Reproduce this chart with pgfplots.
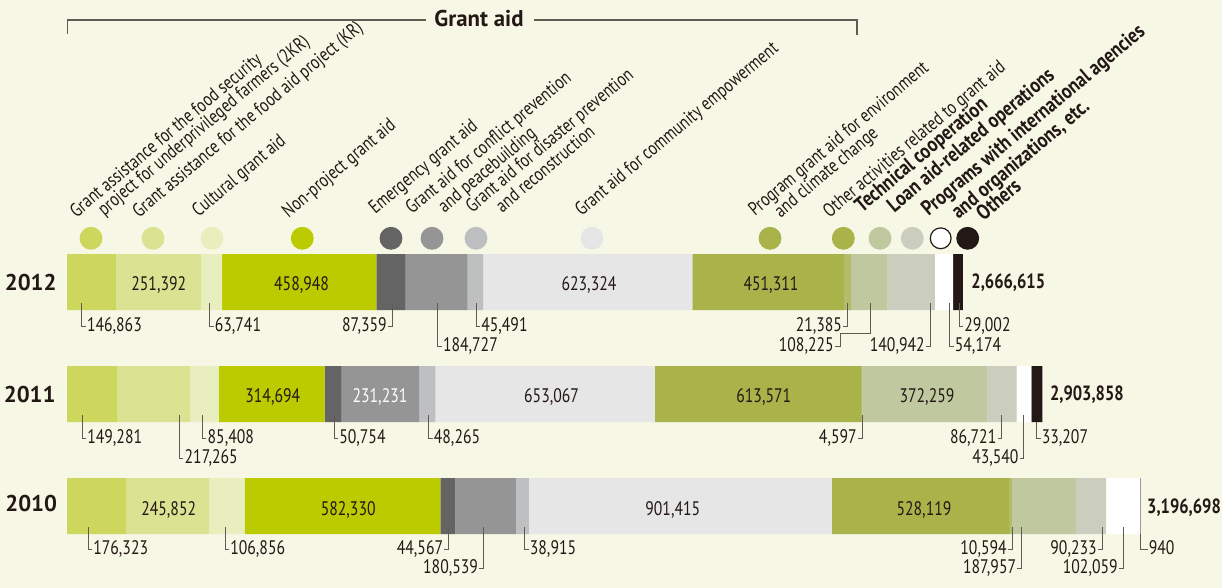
\documentclass[border=0pt]{standalone}
\usepackage{pgfplots}
\pgfplotsset{compat=1.18}
\usepackage{pgfplotstable}
\usepackage{fontspec}
\setmainfont{PT Sans}
\newfontfamily\cf{PT Sans}[FakeStretch=0.80]
\newfontfamily\cb{PT Sans}[FakeStretch=0.84]
\definecolor{bg}{HTML}{F6F7E5}
\definecolor{tc}{HTML}{231815}
\definecolor{ldc}{HTML}{5F5A52}
\definecolor{c1}{HTML}{CDD75D}
\definecolor{c2}{HTML}{DBE392}
\definecolor{c3}{HTML}{E9EEBE}
\definecolor{c4}{HTML}{BBCB00}
\definecolor{c5}{HTML}{646464}
\definecolor{c6}{HTML}{959595}
\definecolor{c7}{HTML}{BEBFC1}
\definecolor{c8}{HTML}{E6E6E6}
\definecolor{c9}{HTML}{A9B34A}
\definecolor{c10}{HTML}{B3BC6B}
\definecolor{c11}{HTML}{C0C8A0}
\definecolor{c12}{HTML}{CBCEBE}
\definecolor{c13}{HTML}{FFFFFF}
\definecolor{c14}{HTML}{231815}

\pgfplotstableread{
y a b c d e f g h i j k l m n
2 146863 251392 63741 458948 87359 184727 45491 623324 451311 21385 108225 140942 54174 29002
1 149281 217265 85408 314694 50754 231231 48265 653067 613571 4597 372259 86721 43540 33207
0 176323 245852 106856 582330 44567 180539 38915 901415 528119 10594 187957 90233 102059 940
}\data

% leader with label on the right: x, ytop, ytick, text
\newcommand\LR[4]{\draw[ld] (#1,#2) -- (#1,#3) -- ++(2pt,0pt) node[vl, anchor=base west, xshift=0.4pt, yshift=-2.5pt] {#4};}
% leader with label on the left
\newcommand\LL[4]{\draw[ld] (#1,#2) -- (#1,#3) -- ++(-2pt,0pt) node[vl, anchor=base east, xshift=-0.4pt, yshift=-2.5pt] {#4};}
\newcommand\IN[4][tc]{\node[vl, anchor=base, text=#1] at (#2,#3) {#4};}
\newcommand\TL[3]{\node[tl] at (#1,#2) {#3};}
\newcommand\TB[3]{\node[tl, font=\cb\bfseries\fontsize{10.6}{10.6}\selectfont] at (#1,#2) {#3};}
\newcommand\DOT[2]{\addplot[only marks, mark=*, mark size=5.5pt, color=#2, mark options={fill=#2, draw=#2}] coordinates {(#1,238.3)};}

\begin{document}
\begin{tikzpicture}[
 ld/.style={draw=ldc, line width=0.5pt},
 vl/.style={font=\cf\fontsize{9.8}{10}\selectfont, text=tc, inner sep=0pt},
 tl/.style={font=\cf\fontsize{9.6}{9.6}\selectfont, text=tc, inner sep=0pt, rotate=40, anchor=base west},
]
\begin{axis}[width=611pt, height=294pt, scale only axis,
  xmin=-199466, xmax=3438550, ymin=-0.732, ymax=4.518,
  xbar stacked, bar width=0.5,
  axis line style={draw=none}, xtick=\empty, ytick=\empty,
  axis background/.style={fill=bg}]
\addplot[fill=c1, draw=none] table[x=a,y=y]{\data};
\addplot[fill=c2, draw=none] table[x=b,y=y]{\data};
\addplot[fill=c3, draw=none] table[x=c,y=y]{\data};
\addplot[fill=c4, draw=none] table[x=d,y=y]{\data};
\addplot[fill=c5, draw=none] table[x=e,y=y]{\data};
\addplot[fill=c6, draw=none] table[x=f,y=y]{\data};
\addplot[fill=c7, draw=none] table[x=g,y=y]{\data};
\addplot[fill=c8, draw=none] table[x=h,y=y]{\data};
\addplot[fill=c9, draw=none] table[x=i,y=y]{\data};
\addplot[fill=c10, draw=none] table[x=j,y=y]{\data};
\addplot[fill=c11, draw=none] table[x=k,y=y]{\data};
\addplot[fill=c12, draw=none] table[x=l,y=y]{\data};
\addplot[fill=c13, draw=none] table[x=m,y=y]{\data};
\addplot[fill=c14, draw=none] table[x=n,y=y]{\data};
\end{axis}

\begin{axis}[width=611pt, height=294pt, scale only axis,
  xmin=0, xmax=1222, ymin=0, ymax=588, y dir=reverse, hide axis, clip=false]
% legend dots
\DOT{91}{c1}
\DOT{153}{c2}
\DOT{212}{c3}
\DOT{302.3}{c4}
\DOT{391}{c5}
\DOT{432}{c6}
\DOT{476}{c7}
\DOT{592}{c8}
\DOT{770}{c9}
\DOT{843.3}{c9}
\DOT{880}{c11}
\DOT{912.3}{c12}
\addplot[only marks, mark=*, mark size=5.2pt, color=tc, mark options={fill=white, draw=tc, line width=0.6pt}] coordinates {(940.7,238.3)};
\DOT{967.7}{c14}
% bracket
\draw[draw=ldc, line width=0.6pt] (67.5,34) -- (67.5,20) -- (426,20);
\draw[draw=ldc, line width=0.6pt] (534,20) -- (857,20) -- (857,35);
\node[font=\bfseries\fontsize{11.4}{12}\selectfont, text=tc, anchor=base, inner sep=0pt] at (479,26.5) {Grant aid};
% category labels
\TL{76.2}{218.3}{Grant assistance for the food security}
\TL{104}{216.7}{project for underprivileged farmers (2KR)}
\TL{138.9}{218.3}{Grant assistance for the food aid project (KR)}
\TL{198.4}{217.3}{Cultural grant aid}
\TL{288.3}{218.3}{Non-project grant aid}
\TL{375}{215}{Emergency grant aid}
\TL{411.7}{215}{Grant aid for conflict prevention}
\TL{444.4}{213.3}{and peacebuilding}
\TL{472}{213.3}{Grant aid for disaster prevention}
\TL{502}{213.3}{and reconstruction}
\TL{581.3}{216.7}{Grant aid for community empowerment}
\TL{754.8}{216.7}{Program grant aid for environment}
\TL{780.6}{218.3}{and climate change}
\TL{829.3}{218.3}{Other activities related to grant aid}
\TB{861.7}{213.3}{Technical cooperation}
\TB{894}{213.3}{Loan aid-related operations}
\TB{928.3}{216.7}{Programs with international agencies}
\TB{958.3}{220}{and organizations, etc.}
\TB{983.3}{221.7}{Others}
% years
\node[font=\bfseries\fontsize{11.4}{12}\selectfont, text=tc, anchor=base east, inner sep=0pt] at (57,290.7) {2012};
\node[font=\bfseries\fontsize{11.4}{12}\selectfont, text=tc, anchor=base east, inner sep=0pt] at (56,402) {2011};
\node[font=\bfseries\fontsize{11.4}{12}\selectfont, text=tc, anchor=base east, inner sep=0pt] at (57.5,511) {2010};
% totals
\node[font=\cf\bfseries\fontsize{10.3}{11}\selectfont, text=tc, anchor=base west, inner sep=0pt] at (971,288.5) {2,666,615};
\node[font=\cf\bfseries\fontsize{10.3}{11}\selectfont, text=tc, anchor=base west, inner sep=0pt] at (1049.6,400.5) {2,903,858};
\node[font=\cf\bfseries\fontsize{10.3}{11}\selectfont, text=tc, anchor=base west, inner sep=0pt] at (1146.8,513) {3,196,698};
% inside labels
\IN{158.8}{291}{251,392}
\IN{301.6}{291}{458,948}
\IN{589}{291}{623,324}
\IN{771}{291}{451,311}
\IN{272.8}{402.5}{314,694}
\IN[white]{380}{402.5}{231,231}
\IN{551.6}{402.5}{653,067}
\IN{763.8}{402.5}{613,571}
\IN{927}{402.5}{372,259}
\IN{168.7}{515}{245,852}
\IN{348.2}{515}{582,330}
\IN{672.8}{515}{901,415}
\IN{924}{515}{528,119}
% 2012 leaders
\LR{81.7}{303}{326.7}{146,863}
\LR{209.5}{303}{326.7}{63,741}
\LL{392}{303}{326.7}{87,359}
\LR{437.7}{303}{346}{184,727}
\LR{476}{303}{326.7}{45,491}
\LL{847.3}{303}{326.7}{21,385}
\draw[ld] (870.6,303) -- (870.6,333) -- (840,333) -- (840,346) -- ++(-2.5pt,0pt) node[vl, anchor=base east, xshift=-0.4pt, yshift=-2.5pt] {108,225};
\LL{930}{303}{346}{140,942}
\LR{949.6}{303}{346}{54,174}
\LR{959}{303}{326.7}{29,002}
% 2011 leaders
\LR{82}{415}{438.3}{149,281}
\LR{179.4}{415}{458}{217,265}
\LR{202.4}{415}{438.3}{85,408}
\LR{334}{415}{438.3}{50,754}
\LR{428.6}{415}{438.3}{48,265}
\LL{862}{415}{438.3}{4,597}
\LL{1001.6}{415}{438.3}{86,721}
\LL{1023.8}{415}{458}{43,540}
\LR{1036.5}{422}{438.3}{33,207}
% 2010 leaders
\LR{88}{527}{549.5}{176,323}
\LR{225}{527}{549.5}{106,856}
\LL{448.4}{527}{549.5}{44,567}
\LL{483.3}{527}{568}{180,539}
\LR{524.6}{527}{549.5}{38,915}
\LL{1012}{527}{549.5}{10,594}
\LL{1021.4}{527}{568}{187,957}
\LL{1102}{527}{549.5}{90,233}
\LL{1123}{527}{568}{102,059}
\draw[ld] (1140.5,534) -- (1140.5,549.5) -- ++(3.5pt,0pt) node[vl, anchor=base west, xshift=0.4pt, yshift=-2.5pt] {940};
\end{axis}
\end{tikzpicture}
\end{document}
